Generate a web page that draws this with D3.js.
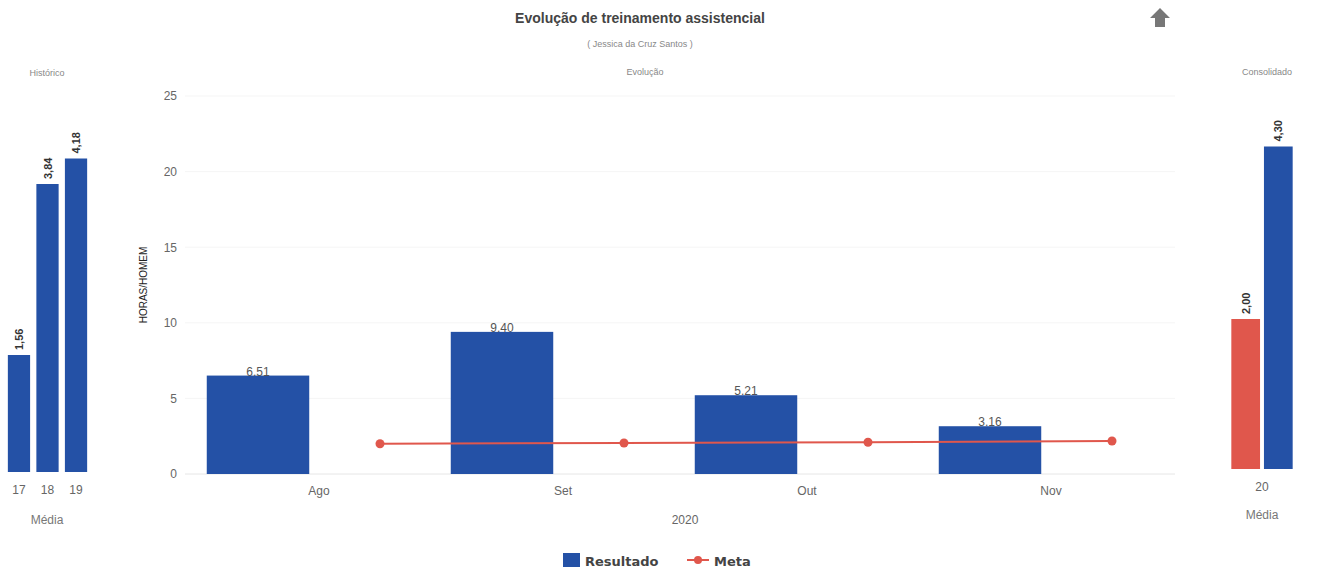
<!DOCTYPE html>
<html>
<head>
<meta charset="utf-8">
<script src="https://cdn.jsdelivr.net/npm/d3@7"></script>
<style>
  html, body { margin: 0; padding: 0; background: #fff; }
  svg { display: block; font-family: "Liberation Sans", Arial, sans-serif; }
</style>
</head>
<body>
<svg id="chart" width="1318" height="570"></svg>
<script>
// ---- data ----
const months = ["Ago", "Set", "Out", "Nov"];
const resultado = [6.51, 9.40, 5.21, 3.16];
const meta = [2.00, 2.05, 2.10, 2.18];
const yTicksMain = [0, 5, 10, 15, 20, 25];

const histYears = ["17", "18", "19"];
const histValues = [1.56, 3.84, 4.18];

const consGroup = ["20"];
const consSeries = ["Meta", "Resultado"];
const consValues = [2.00, 4.30];

const BLUE = "#2451a6";
const RED = "#e0574c";

const svg = d3.select("#chart");
const fmtDot = d3.format(".2f");
const fmtComma = v => d3.format(".2f")(v).replace(".", ",");

// ---- titles ----
svg.append("text").attr("x", 640).attr("y", 23).attr("text-anchor", "middle")
  .attr("font-size", 14).attr("font-weight", "bold").attr("fill", "#444")
  .text("Evolução de treinamento assistencial");
svg.append("text").attr("x", 640).attr("y", 47).attr("text-anchor", "middle")
  .attr("font-size", 9).attr("fill", "#888").text("( Jessica da Cruz Santos )");

// up arrow icon
svg.append("path")
  .attr("d", "M1160,8 L1170,18 L1165,18 L1165,27 L1155,27 L1155,18 L1150,18 Z")
  .attr("fill", "#777");

// ---- main chart ----
const mainX = d3.scaleBand().domain(months).range([197, 1173]).padding(0);
const subX = d3.scaleBand().domain(["Resultado", "Meta"]).range([0, mainX.bandwidth()]);
const mainY = d3.scaleLinear().domain([0, 25]).range([474, 96]);

svg.append("text").attr("x", 645).attr("y", 75).attr("text-anchor", "middle")
  .attr("font-size", 9).attr("fill", "#888").text("Evolução");

// gridlines
const grid = svg.append("g");
grid.selectAll("line").data(yTicksMain).join("line")
  .attr("x1", 185).attr("x2", 1175)
  .attr("y1", d => mainY(d)).attr("y2", d => mainY(d))
  .attr("stroke", d => d === 0 ? "#e6e6e6" : "#f5f5f5").attr("stroke-width", 1);

// y axis
const yAxis = d3.axisLeft(mainY).tickValues(yTicksMain).tickSize(0).tickPadding(0);
const gy = svg.append("g").attr("transform", "translate(177,0)").call(yAxis);
gy.select(".domain").remove();
gy.selectAll("text").attr("font-size", 12).attr("fill", "#666")
  .attr("font-family", "Liberation Sans, Arial, sans-serif");

svg.append("text").attr("transform", "translate(147,285) rotate(-90)")
  .attr("text-anchor", "middle").attr("font-size", 10).attr("fill", "#222")
  .text("HORAS/HOMEM");

// x axis
const xAxis = d3.axisBottom(mainX).tickSize(0).tickPadding(0);
const gx = svg.append("g").attr("transform", "translate(0,486)").call(xAxis);
gx.select(".domain").remove();
gx.selectAll("text").attr("font-size", 12).attr("fill", "#666")
  .attr("font-family", "Liberation Sans, Arial, sans-serif");

svg.append("text").attr("x", 685).attr("y", 524).attr("text-anchor", "middle")
  .attr("font-size", 12).attr("fill", "#666").text("2020");

// bars
const barW = subX.bandwidth() * 0.84;
const mainData = months.map((m, i) => ({ m, r: resultado[i], t: meta[i] }));
svg.append("g").selectAll("rect").data(mainData).join("rect")
  .attr("x", d => mainX(d.m) + subX("Resultado") + (subX.bandwidth() - barW) / 2)
  .attr("width", barW)
  .attr("y", d => mainY(d.r))
  .attr("height", d => mainY(0) - mainY(d.r))
  .attr("fill", BLUE);

svg.append("g").selectAll("text").data(mainData).join("text")
  .attr("x", d => mainX(d.m) + subX("Resultado") + subX.bandwidth() / 2)
  .attr("y", d => mainY(d.r))
  .attr("text-anchor", "middle").attr("font-size", 12).attr("fill", "#555")
  .text(d => fmtDot(d.r));

// meta line
const line = d3.line()
  .x(d => mainX(d.m) + subX("Meta") + subX.bandwidth() / 2)
  .y(d => mainY(d.t));
svg.append("path").datum(mainData).attr("d", line)
  .attr("fill", "none").attr("stroke", RED).attr("stroke-width", 2);
svg.append("g").selectAll("circle").data(mainData).join("circle")
  .attr("cx", d => mainX(d.m) + subX("Meta") + subX.bandwidth() / 2)
  .attr("cy", d => mainY(d.t)).attr("r", 4.5).attr("fill", RED);

// ---- left panel: Histórico ----
const hX = d3.scaleBand().domain(histYears).range([5, 90]).paddingInner(0.22).paddingOuter(0.1);
const hY = d3.scaleLinear().domain([0, 5]).range([472, 97]);

svg.append("text").attr("x", 47).attr("y", 76).attr("text-anchor", "middle")
  .attr("font-size", 9).attr("fill", "#888").text("Histórico");

svg.append("g").selectAll("rect").data(histYears).join("rect")
  .attr("x", d => hX(d)).attr("width", hX.bandwidth())
  .attr("y", (d, i) => hY(histValues[i]))
  .attr("height", (d, i) => hY(0) - hY(histValues[i]))
  .attr("fill", BLUE);

svg.append("g").selectAll("text").data(histYears).join("text")
  .attr("transform", (d, i) => `translate(${hX(d) + hX.bandwidth() / 2 + 4},${hY(histValues[i]) - 5}) rotate(-90)`)
  .attr("font-size", 11).attr("font-weight", "bold").attr("fill", "#333")
  .text((d, i) => fmtComma(histValues[i]));

const hAxis = d3.axisBottom(hX).tickSize(0).tickPadding(0);
const ghx = svg.append("g").attr("transform", "translate(0,485)").call(hAxis);
ghx.select(".domain").remove();
ghx.selectAll("text").attr("font-size", 12).attr("fill", "#666")
  .attr("font-family", "Liberation Sans, Arial, sans-serif");
svg.append("text").attr("x", 47).attr("y", 524).attr("text-anchor", "middle")
  .attr("font-size", 12).attr("fill", "#777").text("Média");

// ---- right panel: Consolidado ----
const cX = d3.scaleBand().domain(consGroup).range([1226, 1298]).padding(0.02);
const cSub = d3.scaleBand().domain(consSeries).range([0, cX.bandwidth()]).padding(0.12);
const cY = d3.scaleLinear().domain([0, 5]).range([469, 94]);

svg.append("text").attr("x", 1267).attr("y", 75).attr("text-anchor", "middle")
  .attr("font-size", 9).attr("fill", "#888").text("Consolidado");

svg.append("g").selectAll("rect").data(consSeries).join("rect")
  .attr("x", d => cX("20") + cSub(d)).attr("width", cSub.bandwidth())
  .attr("y", (d, i) => cY(consValues[i]))
  .attr("height", (d, i) => cY(0) - cY(consValues[i]))
  .attr("fill", d => d === "Meta" ? RED : BLUE);

svg.append("g").selectAll("text").data(consSeries).join("text")
  .attr("transform", (d, i) => `translate(${cX("20") + cSub(d) + cSub.bandwidth() / 2 + 4},${cY(consValues[i]) - 5}) rotate(-90)`)
  .attr("font-size", 11).attr("font-weight", "bold").attr("fill", "#333")
  .text((d, i) => fmtComma(consValues[i]));

const cAxis = d3.axisBottom(cX).tickSize(0).tickPadding(0);
const gcx = svg.append("g").attr("transform", "translate(0,482)").call(cAxis);
gcx.select(".domain").remove();
gcx.selectAll("text").attr("font-size", 12).attr("fill", "#666")
  .attr("font-family", "Liberation Sans, Arial, sans-serif");
svg.append("text").attr("x", 1262).attr("y", 519).attr("text-anchor", "middle")
  .attr("font-size", 12).attr("fill", "#777").text("Média");

// ---- legend ----
const legend = svg.append("g");
legend.append("rect").attr("x", 563).attr("y", 553).attr("width", 17).attr("height", 14).attr("fill", BLUE);
legend.append("text").attr("x", 585).attr("y", 566).attr("font-size", 13).attr("font-weight", "bold")
  .attr("font-family", "DejaVu Sans, sans-serif").attr("fill", "#444").text("Resultado");
legend.append("line").attr("x1", 687).attr("x2", 709).attr("y1", 560).attr("y2", 560)
  .attr("stroke", RED).attr("stroke-width", 2);
legend.append("circle").attr("cx", 698).attr("cy", 560).attr("r", 4).attr("fill", RED);
legend.append("text").attr("x", 714).attr("y", 566).attr("font-size", 13).attr("font-weight", "bold")
  .attr("font-family", "DejaVu Sans, sans-serif").attr("fill", "#444").text("Meta");
</script>
</body>
</html>
